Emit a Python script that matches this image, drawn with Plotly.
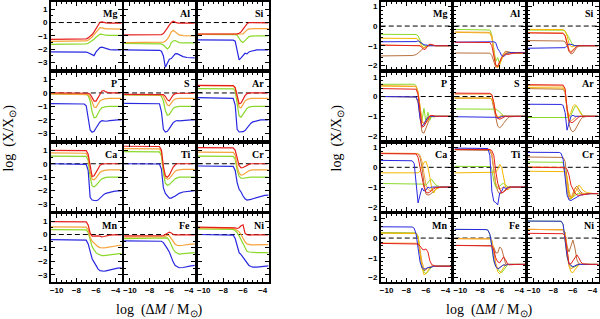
import plotly.graph_objects as go

# ---------------- data ----------------
ELEMENTS = ["Mg", "Al", "Si", "P", "S", "Ar", "Ca", "Ti", "Cr", "Mn", "Fe", "Ni"]

# x grid (log dM/Msun) used for the left-hand panel curves
XL = [-10.6, -7.2, -7.0, -6.8, -6.6, -6.4, -6.2, -6.0, -5.8, -5.6, -5.4, -5.2, -5.0, -4.6, -4.2, -3.8, -3.4]
# x grid used for the right-hand panel curves
XR = [-10.6, -7.6, -7.4, -7.2, -7.0, -6.8, -6.6, -6.4, -6.2, -6.0, -5.8, -5.6, -5.4, -5.2, -5.0, -4.6, -4.2, -3.8, -3.4]

# ---- left panel: red, orange, green, blue ----
L_Mg = dict(
    red=[-1.26, -1.25, -1.22, -1.15, -1.05, -0.90, -0.70, -0.45, -0.20, 0.02, 0.05, 0.00, -0.03, -0.05, -0.05, -0.05, -0.05],
    orange=[-1.41, -1.41, -1.38, -1.32, -1.22, -1.08, -0.90, -0.70, -0.50, -0.38, -0.40, -0.47, -0.48, -0.48, -0.50, -0.50, -0.50],
    green=[-1.63, -1.63, -1.60, -1.55, -1.47, -1.37, -1.25, -1.10, -0.95, -0.87, -0.88, -0.92, -0.95, -0.96, -0.96, -0.96, -0.96],
    blue=[-2.20, -2.20, -2.22, -2.26, -2.32, -2.42, -2.48, -2.20, -2.00, -1.88, -1.85, -1.90, -1.97, -2.03, -2.05, -2.05, -2.05])
L_Al = dict(
    red=[-0.93, -0.93, -0.93, -0.90, -0.82, -0.65, -0.42, -0.20, 0.00, 0.10, 0.02, -0.03, -0.05, -0.05, -0.05, -0.05, -0.05],
    orange=[-1.50, -1.50, -1.50, -1.50, -1.47, -1.40, -1.25, -1.00, -0.70, -0.58, -0.70, -0.85, -0.93, -0.98, -1.00, -1.00, -1.00],
    green=[-1.57, -1.57, -1.58, -1.60, -1.68, -1.85, -1.98, -1.85, -1.50, -1.38, -1.35, -1.42, -1.50, -1.53, -1.52, -1.52, -1.52],
    blue=[-2.05, -2.06, -2.08, -2.15, -2.50, -3.35, -3.00, -2.75, -2.70, -2.50, -2.35, -2.33, -2.40, -2.55, -2.62, -2.65, -2.65])
L_Si = dict(
    red=[-0.86, -0.86, -0.86, -0.86, -0.85, -0.80, -0.70, -0.50, -0.30, -0.10, 0.00, 0.00, -0.02, -0.02, -0.02, -0.02, -0.02],
    orange=[-0.88, -0.88, -0.88, -0.88, -0.88, -0.88, -0.90, -0.85, -0.70, -0.55, -0.48, -0.46, -0.45, -0.45, -0.45, -0.45, -0.45],
    green=[-0.88, -0.88, -0.88, -0.90, -0.95, -1.15, -1.40, -1.50, -1.35, -1.15, -1.05, -1.02, -1.00, -1.00, -1.00, -1.00, -1.00],
    blue=[-1.30, -1.30, -1.32, -1.40, -2.10, -2.80, -2.65, -2.45, -2.30, -2.35, -2.20, -2.15, -2.10, -2.05, -2.05, -2.05, -2.05])
L_P = dict(
    red=[0.00, 0.00, 0.00, -0.02, -0.10, -0.35, -0.60, -0.60, -0.35, -0.10, 0.15, 0.18, 0.08, 0.00, 0.00, 0.00, 0.00],
    orange=[-0.07, -0.07, -0.08, -0.12, -0.30, -0.70, -1.05, -1.08, -0.85, -0.60, -0.50, -0.45, -0.42, -0.40, -0.40, -0.40, -0.40],
    green=[-0.07, -0.08, -0.10, -0.20, -0.60, -1.40, -1.85, -1.80, -1.50, -1.25, -1.10, -1.05, -1.02, -1.00, -1.00, -1.00, -1.00],
    blue=[-0.80, -0.82, -0.95, -1.80, -2.75, -2.92, -2.85, -2.60, -2.35, -2.15, -2.05, -2.10, -2.10, -2.05, -2.00, -2.00, -2.00])
L_S = dict(
    red=[-0.10, -0.10, -0.10, -0.10, -0.12, -0.25, -0.50, -0.60, -0.40, -0.15, -0.05, -0.02, -0.02, -0.02, -0.02, -0.02, -0.02],
    orange=[-0.12, -0.12, -0.12, -0.14, -0.25, -0.60, -0.90, -0.95, -0.75, -0.55, -0.45, -0.42, -0.40, -0.40, -0.40, -0.40, -0.40],
    green=[-0.15, -0.15, -0.16, -0.25, -0.60, -1.30, -1.65, -1.60, -1.35, -1.15, -1.05, -1.02, -1.00, -1.00, -1.00, -1.00, -1.00],
    blue=[-0.77, -0.77, -0.80, -1.40, -2.70, -2.90, -2.85, -2.65, -2.40, -2.20, -2.10, -2.05, -2.08, -2.05, -2.00, -2.00, -2.00])
L_Ar = dict(
    red=[0.57, 0.57, 0.55, 0.40, -0.30, -0.80, -0.75, -0.45, -0.20, -0.05, 0.00, 0.00, 0.00, 0.00, 0.00, 0.00, 0.00],
    orange=[0.55, 0.55, 0.52, 0.35, -0.50, -1.05, -1.10, -0.85, -0.60, -0.48, -0.42, -0.40, -0.40, -0.40, -0.40, -0.40, -0.40],
    green=[0.32, 0.32, 0.30, 0.15, -0.90, -1.70, -1.80, -1.60, -1.35, -1.15, -1.05, -1.00, -1.00, -1.00, -1.00, -1.00, -1.00],
    blue=[-0.35, -0.35, -0.40, -0.90, -2.70, -2.90, -2.90, -2.88, -2.80, -2.60, -2.40, -2.25, -2.15, -2.05, -2.00, -2.00, -2.00])
L_Ca = dict(
    red=[1.00, 1.00, 0.98, 0.70, -0.30, -0.95, -0.90, -0.60, -0.30, -0.12, -0.03, 0.00, 0.00, 0.00, 0.00, 0.00, 0.00],
    orange=[0.80, 0.80, 0.78, 0.50, -0.60, -1.15, -1.20, -1.05, -0.85, -0.65, -0.55, -0.50, -0.48, -0.45, -0.45, -0.45, -0.45],
    green=[0.57, 0.57, 0.55, 0.25, -1.00, -1.65, -1.72, -1.60, -1.40, -1.25, -1.12, -1.05, -1.02, -1.00, -1.00, -1.00, -1.00],
    blue=[0.00, 0.00, -0.05, -0.50, -2.50, -2.70, -2.75, -2.75, -2.70, -2.55, -2.40, -2.28, -2.20, -2.10, -2.05, -2.02, -2.02])
L_Ti = dict(
    red=[1.30, 1.30, 1.28, 1.00, -0.20, -0.90, -1.00, -0.85, -0.55, -0.25, -0.08, 0.00, 0.00, 0.00, 0.00, 0.00, 0.00],
    orange=[1.13, 1.13, 1.10, 0.85, -0.40, -1.05, -1.15, -1.10, -0.90, -0.70, -0.55, -0.48, -0.45, -0.42, -0.42, -0.42, -0.42],
    green=[0.90, 0.90, 0.88, 0.60, -0.70, -1.45, -1.60, -1.55, -1.40, -1.25, -1.12, -1.05, -1.00, -1.00, -1.00, -1.00, -1.00],
    blue=[0.00, 0.00, -0.02, -0.40, -1.80, -2.20, -2.35, -2.55, -2.55, -2.50, -2.40, -2.30, -2.20, -2.10, -2.05, -2.00, -2.00])
L_Cr = dict(
    red=[1.20, 1.20, 1.18, 1.00, 0.30, -0.15, -0.30, -0.28, -0.20, -0.10, -0.05, 0.00, 0.00, 0.00, 0.00, 0.00, 0.00],
    orange=[0.87, 0.87, 0.85, 0.65, -0.20, -0.70, -0.85, -0.82, -0.70, -0.60, -0.52, -0.48, -0.45, -0.45, -0.45, -0.45, -0.45],
    green=[0.57, 0.57, 0.55, 0.35, -0.50, -0.95, -1.07, -1.08, -1.05, -1.02, -1.00, -1.00, -1.00, -1.00, -1.00, -1.00, -1.00],
    blue=[-0.17, -0.17, -0.20, -0.50, -1.40, -1.90, -2.10, -2.40, -2.60, -2.70, -2.70, -2.65, -2.60, -2.50, -2.40, -2.35, -2.33])
L_Mn = dict(
    red=[0.96, 0.96, 0.94, 0.70, 0.10, -0.12, -0.10, -0.12, -0.10, -0.12, -0.18, -0.15, -0.10, -0.05, -0.03, -0.03, -0.03],
    orange=[0.57, 0.57, 0.55, 0.35, -0.20, -0.50, -0.65, -0.80, -0.90, -0.97, -1.00, -1.00, -0.98, -0.92, -0.85, -0.80, -0.78],
    green=[0.37, 0.37, 0.35, 0.15, -0.45, -0.90, -1.15, -1.35, -1.45, -1.52, -1.57, -1.57, -1.55, -1.50, -1.45, -1.42, -1.40],
    blue=[-0.38, -0.38, -0.42, -0.70, -1.30, -1.80, -2.05, -2.30, -2.55, -2.68, -2.73, -2.73, -2.70, -2.62, -2.55, -2.50, -2.48])
L_Fe = dict(
    red=[-0.10, -0.10, -0.10, -0.10, -0.08, 0.00, 0.12, 0.18, 0.12, 0.00, -0.03, -0.03, -0.03, -0.03, -0.03, -0.03, -0.03],
    orange=[-0.20, -0.20, -0.20, -0.20, -0.20, -0.15, -0.05, -0.10, -0.30, -0.55, -0.72, -0.80, -0.82, -0.80, -0.75, -0.72, -0.72],
    green=[-0.30, -0.30, -0.30, -0.30, -0.30, -0.28, -0.25, -0.45, -0.80, -1.10, -1.30, -1.40, -1.45, -1.42, -1.38, -1.35, -1.35],
    blue=[-0.47, -0.47, -0.47, -0.50, -0.60, -0.80, -1.05, -1.30, -1.70, -2.05, -2.30, -2.42, -2.47, -2.45, -2.38, -2.33, -2.30])
L_Ni = dict(
    red=[0.55, 0.55, 0.52, 0.50, 0.45, 0.50, 0.65, 0.72, 0.10, -0.02, -0.05, -0.02, -0.02, -0.02, -0.02, -0.02, -0.02],
    orange=[0.50, 0.50, 0.45, 0.40, 0.30, 0.20, 0.00, -0.30, -0.55, -0.70, -0.75, -0.77, -0.77, -0.75, -0.75, -0.75, -0.75],
    green=[0.42, 0.42, 0.38, 0.30, 0.15, -0.10, -0.40, -0.75, -1.05, -1.25, -1.30, -1.32, -1.33, -1.35, -1.35, -1.35, -1.35],
    blue=[0.00, 0.00, -0.05, -0.30, -0.80, -1.35, -1.50, -1.70, -1.95, -2.15, -2.30, -2.38, -2.42, -2.42, -2.38, -2.35, -2.33])

# ---- right panel: brown, green, gold, orange, blue, red ----
R_Mg = dict(
    green=[-0.42, -0.42, -0.42, -0.42, -0.43, -0.50, -0.75, -0.92, -1.00, -1.02, -0.98, -0.95, -0.97, -1.00, -1.00, -1.00, -1.00, -1.00, -1.00],
    gold=[-0.62, -0.62, -0.62, -0.62, -0.63, -0.68, -0.85, -1.02, -1.10, -1.08, -1.00, -0.95, -0.97, -1.00, -1.00, -1.00, -1.00, -1.00, -1.00],
    orange=[-0.97, -0.97, -0.97, -0.97, -0.97, -0.98, -1.00, -1.05, -1.12, -1.08, -1.00, -0.96, -0.98, -1.00, -1.00, -1.00, -1.00, -1.00, -1.00],
    red=[-0.97, -0.97, -0.97, -0.97, -0.97, -0.98, -1.00, -1.10, -1.20, -1.15, -1.00, -0.92, -0.95, -1.00, -1.00, -1.00, -1.00, -1.00, -1.00],
    blue=[-0.80, -0.80, -0.80, -0.80, -0.79, -0.75, -0.80, -0.88, -0.95, -0.98, -1.00, -1.00, -1.00, -1.00, -1.00, -1.00, -1.00, -1.00, -1.00],
    brown=[-1.52, -1.52, -1.50, -1.48, -1.45, -1.38, -1.28, -1.18, -1.10, -1.05, -1.02, -1.00, -1.00, -1.00, -1.00, -1.00, -1.00, -1.00, -1.00])
R_Al = dict(
    green=[-0.17, -0.17, -0.17, -0.17, -0.20, -0.45, -1.20, -1.80, -1.60, -1.95, -1.60, -1.45, -1.40, -1.37, -1.37, -1.37, -1.37, -1.37, -1.37],
    gold=[-0.32, -0.32, -0.32, -0.32, -0.35, -0.60, -1.40, -2.00, -2.12, -1.95, -1.70, -1.50, -1.40, -1.38, -1.36, -1.36, -1.36, -1.36, -1.36],
    orange=[-0.30, -0.30, -0.30, -0.30, -0.32, -0.50, -1.20, -1.95, -2.05, -1.80, -1.55, -1.40, -1.35, -1.38, -1.37, -1.37, -1.37, -1.37, -1.37],
    red=[-0.82, -0.82, -0.82, -0.82, -0.84, -1.00, -1.60, -2.00, -2.05, -1.85, -1.60, -1.50, -1.42, -1.45, -1.42, -1.38, -1.37, -1.37, -1.37],
    blue=[-0.82, -0.82, -0.82, -0.82, -0.82, -0.80, -0.80, -0.85, -1.15, -1.30, -1.50, -1.55, -1.45, -1.38, -1.35, -1.35, -1.35, -1.35, -1.35],
    brown=[-1.37, -1.37, -1.37, -1.37, -1.38, -1.50, -1.85, -2.10, -2.05, -1.80, -1.55, -1.40, -1.28, -1.30, -1.35, -1.37, -1.37, -1.37, -1.37])
R_Si = dict(
    green=[-0.20, -0.20, -0.20, -0.20, -0.21, -0.25, -0.40, -0.60, -0.80, -0.95, -1.00, -1.00, -1.00, -1.00, -1.00, -1.00, -1.00, -1.00, -1.00],
    gold=[-0.17, -0.17, -0.17, -0.17, -0.18, -0.25, -0.50, -0.90, -1.05, -1.05, -1.00, -1.00, -1.00, -1.00, -1.00, -1.00, -1.00, -1.00, -1.00],
    orange=[-0.33, -0.33, -0.33, -0.33, -0.35, -0.45, -0.80, -1.20, -1.30, -1.20, -1.08, -1.02, -1.00, -1.00, -1.00, -1.00, -1.00, -1.00, -1.00],
    red=[-0.35, -0.35, -0.35, -0.35, -0.37, -0.50, -0.90, -1.25, -1.35, -1.25, -1.10, -1.03, -1.00, -1.00, -1.00, -1.00, -1.00, -1.00, -1.00],
    blue=[-1.13, -1.13, -1.13, -1.13, -1.12, -1.10, -1.00, -0.92, -0.93, -0.97, -1.00, -1.00, -1.00, -1.00, -1.00, -1.00, -1.00, -1.00, -1.00],
    brown=[-0.74, -0.74, -0.74, -0.74, -0.76, -0.80, -1.00, -1.30, -1.42, -1.38, -1.20, -1.08, -1.02, -1.00, -1.00, -1.00, -1.00, -1.00, -1.00])
R_P = dict(
    green=[0.62, 0.62, 0.62, 0.62, 0.55, 0.20, -0.70, -1.20, -0.60, -1.30, -0.80, -1.20, -0.95, -1.05, -1.00, -1.00, -1.00, -1.00, -1.00],
    gold=[0.53, 0.53, 0.53, 0.53, 0.50, 0.20, -0.60, -1.20, -1.40, -1.35, -1.20, -1.05, -0.98, -1.00, -1.00, -1.00, -1.00, -1.00, -1.00],
    orange=[0.55, 0.55, 0.55, 0.55, 0.52, 0.25, -0.70, -1.30, -1.35, -1.20, -1.05, -0.98, -1.00, -1.00, -1.00, -1.00, -1.00, -1.00, -1.00],
    red=[0.40, 0.40, 0.40, 0.40, 0.37, 0.10, -0.90, -1.55, -1.50, -1.30, -1.10, -0.98, -0.95, -0.98, -1.00, -1.00, -1.00, -1.00, -1.00],
    blue=[0.00, 0.00, 0.00, 0.00, -0.02, -0.25, -1.10, -1.50, -1.40, -1.20, -1.05, -1.00, -1.00, -1.00, -1.00, -1.00, -1.00, -1.00, -1.00],
    brown=[0.00, 0.00, 0.00, 0.00, -0.03, -0.30, -1.20, -1.80, -1.85, -1.60, -1.30, -1.10, -1.02, -1.00, -1.00, -1.00, -1.00, -1.00, -1.00])
R_S = dict(
    green=[-0.63, -0.63, -0.63, -0.63, -0.63, -0.63, -0.63, -0.64, -0.70, -0.80, -0.90, -0.97, -1.00, -1.00, -1.00, -1.00, -1.00, -1.00, -1.00],
    gold=[-0.08, -0.08, -0.08, -0.08, -0.08, -0.12, -0.40, -0.90, -1.05, -1.00, -0.95, -0.98, -1.00, -1.00, -1.00, -1.00, -1.00, -1.00, -1.00],
    orange=[0.12, 0.12, 0.12, 0.12, 0.12, 0.08, -0.30, -0.85, -1.05, -1.10, -1.02, -1.00, -1.00, -1.00, -1.00, -1.00, -1.00, -1.00, -1.00],
    red=[0.17, 0.17, 0.17, 0.17, 0.16, 0.10, -0.30, -0.90, -1.10, -1.15, -1.10, -1.03, -1.00, -1.00, -1.00, -1.00, -1.00, -1.00, -1.00],
    blue=[-1.02, -1.02, -1.02, -1.02, -1.02, -1.02, -1.02, -1.05, -1.10, -1.05, -1.00, -1.00, -1.00, -1.00, -1.00, -1.00, -1.00, -1.00, -1.00],
    brown=[-0.08, -0.08, -0.08, -0.08, -0.08, -0.15, -0.60, -1.20, -1.50, -1.58, -1.50, -1.35, -1.20, -1.10, -1.03, -1.00, -1.00, -1.00, -1.00])
R_Ar = dict(
    green=[-1.06, -1.06, -1.06, -1.06, -1.06, -1.06, -1.06, -1.06, -0.95, -0.70, -0.50, -0.50, -0.65, -0.85, -0.97, -1.00, -1.00, -1.00, -1.00],
    gold=[0.45, 0.45, 0.45, 0.45, 0.43, 0.25, -0.60, -1.00, -0.80, -0.50, -0.40, -0.50, -0.70, -0.88, -0.97, -1.00, -1.00, -1.00, -1.00],
    orange=[0.55, 0.55, 0.55, 0.55, 0.53, 0.35, -0.70, -1.20, -1.25, -1.15, -1.05, -1.00, -1.00, -1.00, -1.00, -1.00, -1.00, -1.00, -1.00],
    red=[0.60, 0.60, 0.60, 0.60, 0.58, 0.40, -0.60, -1.20, -1.32, -1.30, -1.20, -1.10, -1.03, -1.00, -1.00, -1.00, -1.00, -1.00, -1.00],
    blue=[-0.39, -0.39, -0.39, -0.40, -0.45, -0.80, -1.70, -1.30, -1.00, -0.95, -1.00, -1.00, -1.00, -1.00, -1.00, -1.00, -1.00, -1.00, -1.00],
    brown=[0.40, 0.40, 0.40, 0.40, 0.37, 0.20, -0.70, -1.40, -1.70, -1.78, -1.70, -1.50, -1.30, -1.15, -1.05, -1.00, -1.00, -1.00, -1.00])
R_Ca = dict(
    green=[-0.82, -0.82, -0.82, -0.82, -0.82, -0.82, -0.82, -0.83, -0.85, -0.90, -0.80, -0.65, -0.62, -0.75, -0.90, -0.98, -1.00, -1.00, -1.00],
    gold=[-0.28, -0.28, -0.28, -0.28, -0.28, -0.28, -0.20, 0.00, 0.25, 0.30, 0.00, -0.50, -1.10, -1.30, -1.10, -1.00, -1.00, -1.00, -1.00],
    orange=[0.72, 0.72, 0.72, 0.72, 0.72, 0.70, 0.60, 0.30, -0.30, -0.90, -1.10, -1.20, -1.10, -1.02, -1.00, -1.00, -1.00, -1.00, -1.00],
    red=[0.69, 0.69, 0.69, 0.69, 0.68, 0.50, 0.00, -0.60, -1.00, -1.25, -1.30, -1.25, -1.15, -1.08, -1.03, -1.00, -1.00, -1.00, -1.00],
    blue=[0.35, 0.35, 0.33, 0.20, -0.80, -1.80, -1.40, -1.05, -1.20, -1.15, -1.00, -1.05, -1.00, -1.00, -1.00, -1.00, -1.00, -1.00, -1.00],
    brown=[0.70, 0.70, 0.70, 0.70, 0.70, 0.68, 0.50, 0.00, -0.80, -1.35, -1.40, -1.38, -1.30, -1.20, -1.10, -1.02, -1.00, -1.00, -1.00])
R_Ti = dict(
    green=[0.05, 0.05, 0.05, 0.05, 0.04, -0.10, -0.70, -1.00, -1.02, -0.95, -0.85, -0.82, -0.90, -0.97, -1.00, -1.00, -1.00, -1.00, -1.00],
    gold=[-0.28, -0.28, -0.28, -0.28, -0.28, -0.28, -0.28, -0.25, -0.10, 0.15, 0.00, -0.50, -1.00, -1.15, -1.05, -1.00, -1.00, -1.00, -1.00],
    orange=[0.92, 0.92, 0.92, 0.92, 0.90, 0.70, 0.00, -0.80, -1.05, -1.10, -1.05, -1.00, -1.00, -1.00, -1.00, -1.00, -1.00, -1.00, -1.00],
    red=[0.90, 0.90, 0.90, 0.90, 0.90, 0.85, 0.60, -0.20, -0.80, -1.10, -1.30, -1.25, -1.15, -1.05, -1.00, -1.00, -1.00, -1.00, -1.00],
    blue=[0.97, 0.97, 0.97, 0.95, 0.60, -1.20, -1.72, -1.78, -1.90, -1.30, -1.20, -1.00, -1.08, -1.02, -1.00, -1.00, -1.00, -1.00, -1.00],
    brown=[0.88, 0.88, 0.88, 0.88, 0.85, 0.60, -0.20, -0.90, -1.20, -1.35, -1.30, -1.20, -1.10, -1.03, -1.00, -1.00, -1.00, -1.00, -1.00])
R_Cr = dict(
    green=[0.27, 0.27, 0.27, 0.27, 0.25, -0.20, -1.20, -1.60, -1.60, -1.50, -1.40, -1.35, -1.33, -1.33, -1.33, -1.33, -1.33, -1.33, -1.33],
    gold=[-0.20, -0.20, -0.20, -0.20, -0.20, -0.22, -0.50, -1.20, -1.55, -1.50, -1.30, -1.05, -0.90, -1.00, -1.15, -1.28, -1.32, -1.33, -1.33],
    orange=[0.02, 0.02, 0.02, 0.02, 0.00, -0.30, -1.10, -1.60, -1.55, -1.30, -1.05, -1.10, -1.25, -1.32, -1.33, -1.33, -1.33, -1.33, -1.33],
    red=[0.00, 0.00, 0.00, 0.00, 0.00, -0.02, -0.10, -0.40, -0.90, -1.15, -1.30, -1.40, -1.42, -1.40, -1.38, -1.35, -1.33, -1.33, -1.33],
    blue=[0.76, 0.76, 0.75, 0.70, 0.40, -0.50, -1.40, -1.65, -1.68, -1.62, -1.55, -1.50, -1.45, -1.40, -1.38, -1.35, -1.33, -1.33, -1.33],
    brown=[0.52, 0.52, 0.52, 0.52, 0.50, 0.30, -0.60, -1.40, -1.60, -1.40, -1.05, -0.95, -1.10, -1.25, -1.32, -1.33, -1.33, -1.33, -1.33])
R_Mn = dict(
    green=[0.27, 0.27, 0.27, 0.27, 0.25, 0.10, -0.60, -1.40, -1.70, -1.80, -1.70, -1.55, -1.45, -1.42, -1.42, -1.42, -1.42, -1.42, -1.42],
    gold=[0.25, 0.25, 0.25, 0.25, 0.23, 0.05, -0.70, -1.50, -1.85, -1.80, -1.65, -1.50, -1.45, -1.42, -1.42, -1.42, -1.42, -1.42, -1.42],
    orange=[-0.25, -0.25, -0.25, -0.25, -0.26, -0.30, -0.60, -1.20, -1.55, -1.60, -1.50, -1.45, -1.42, -1.42, -1.42, -1.42, -1.42, -1.42, -1.42],
    red=[-0.27, -0.27, -0.27, -0.27, -0.28, -0.30, -0.40, -0.55, -0.60, -0.55, -0.70, -1.15, -1.35, -1.40, -1.42, -1.42, -1.42, -1.42, -1.42],
    blue=[0.57, 0.57, 0.56, 0.50, 0.20, -0.50, -1.20, -1.50, -1.57, -1.55, -1.48, -1.50, -1.45, -1.42, -1.42, -1.42, -1.42, -1.42, -1.42],
    brown=[0.27, 0.27, 0.27, 0.27, 0.25, 0.05, -0.80, -1.50, -1.65, -1.60, -1.50, -1.45, -1.42, -1.42, -1.42, -1.42, -1.42, -1.42, -1.42])
R_Fe = dict(
    green=[0.44, 0.44, 0.43, 0.40, 0.18, -0.45, -1.20, -1.40, -1.55, -1.70, -1.75, -1.60, -1.45, -1.35, -1.33, -1.33, -1.33, -1.33, -1.33],
    gold=[-0.03, -0.03, -0.03, -0.03, -0.04, -0.10, -0.60, -1.30, -1.70, -1.80, -1.65, -1.45, -1.35, -1.33, -1.33, -1.33, -1.33, -1.33, -1.33],
    orange=[-0.03, -0.03, -0.03, -0.03, -0.04, -0.12, -0.70, -1.30, -1.55, -1.50, -1.40, -1.35, -1.33, -1.33, -1.33, -1.33, -1.33, -1.33, -1.33],
    red=[-0.37, -0.37, -0.37, -0.37, -0.37, -0.40, -0.60, -1.00, -1.20, -1.25, -1.10, -0.95, -1.10, -1.30, -1.35, -1.33, -1.33, -1.33, -1.33],
    blue=[0.44, 0.44, 0.43, 0.40, 0.20, -0.40, -1.10, -1.45, -1.55, -1.50, -1.40, -1.35, -1.38, -1.33, -1.33, -1.33, -1.33, -1.33, -1.33],
    brown=[-0.37, -0.37, -0.37, -0.37, -0.37, -0.38, -0.45, -0.75, -0.75, -0.45, -0.55, -1.00, -1.30, -1.35, -1.33, -1.33, -1.33, -1.33, -1.33])
R_Ni = dict(
    green=[0.86, 0.86, 0.86, 0.85, 0.68, -0.05, -0.95, -1.35, -1.45, -1.50, -1.45, -1.38, -1.33, -1.33, -1.33, -1.33, -1.33, -1.33, -1.33],
    gold=[0.44, 0.44, 0.44, 0.44, 0.42, 0.25, -0.60, -1.40, -1.70, -1.75, -1.60, -1.45, -1.35, -1.33, -1.33, -1.33, -1.33, -1.33, -1.33],
    orange=[0.44, 0.44, 0.44, 0.44, 0.42, 0.20, -0.70, -1.40, -1.55, -1.50, -1.40, -1.33, -1.33, -1.33, -1.33, -1.33, -1.33, -1.33, -1.33],
    red=[0.24, 0.24, 0.24, 0.24, 0.22, 0.10, -0.60, -1.30, -1.30, -1.15, -0.95, -0.85, -1.00, -1.20, -1.30, -1.33, -1.33, -1.33, -1.33],
    blue=[0.86, 0.86, 0.86, 0.85, 0.70, 0.00, -0.90, -1.30, -1.40, -1.45, -1.40, -1.35, -1.33, -1.33, -1.33, -1.33, -1.33, -1.33, -1.33],
    brown=[0.44, 0.44, 0.44, 0.44, 0.42, 0.30, -0.40, -0.70, -0.40, -0.10, -0.50, -1.10, -1.30, -1.33, -1.33, -1.33, -1.33, -1.33, -1.33])

LEFT = [L_Mg, L_Al, L_Si, L_P, L_S, L_Ar, L_Ca, L_Ti, L_Cr, L_Mn, L_Fe, L_Ni]
RIGHT = [R_Mg, R_Al, R_Si, R_P, R_S, R_Ar, R_Ca, R_Ti, R_Cr, R_Mn, R_Fe, R_Ni]

X_TICKS = [-10, -8, -6, -4]
L_YTICKS = [-3, -2, -1, 0, 1]
R_YTICKS = [-2, -1, 0, 1]

# ---------------- styling / layout ----------------
W, H = 600, 319
COLORS = dict(red="#e5201c", orange="#f5a33a", green="#8ad92a", blue="#2828e0",
              gold="#f2b800", brown="#b8703e")
LEFT_ORDER = ["blue", "green", "orange", "red"]
RIGHT_ORDER = ["brown", "green", "gold", "orange", "blue", "red"]
LEFT_COLS = [(50, 121), (123.5, 194.5), (197.5, 268.5)]
RIGHT_COLS = [(381, 452), (455, 526), (528.5, 599.5)]
ROWS = [(2.5, 69.5), (73, 140.5), (144, 211.5), (215, 282.5)]
TICKFONT = dict(family="Liberation Sans", size=8, color="black", weight="bold")

fig = go.Figure()
layout = {}
annotations = []
shapes = []

panels = [
    (LEFT, LEFT_COLS, XL, [-3.5, 1.5], L_YTICKS, 0.5, LEFT_ORDER, 1.2, 0),
    (RIGHT, RIGHT_COLS, XR, [-2.2, 1.2], R_YTICKS, 0.2, RIGHT_ORDER, 1.0, 12),
]
for data, cols, grid, yrange, yticks, yminor, order, lw, offset in panels:
    for i, el in enumerate(ELEMENTS):
        r, c = divmod(i, 3)
        n = offset + i + 1
        sfx = "" if n == 1 else str(n)
        x0, x1 = cols[c]
        y0, y1 = ROWS[r]
        layout["xaxis" + sfx] = dict(
            domain=[x0 / W, x1 / W], anchor="y" + sfx, range=[-10.6, -3.4],
            tickmode="array", tickvals=X_TICKS, ticks="inside", ticklen=4, tickwidth=1,
            tickcolor="black", showline=True, linecolor="black", linewidth=1.6,
            mirror="allticks", showgrid=False, zeroline=False,
            showticklabels=(r == 3), tickfont=TICKFONT,
            minor=dict(dtick=0.5, tick0=0, ticks="inside", ticklen=2, tickcolor="black",
                       showgrid=False),
        )
        layout["yaxis" + sfx] = dict(
            domain=[1 - y1 / H, 1 - y0 / H], anchor="x" + sfx, range=yrange,
            tickmode="array", tickvals=yticks, ticks="inside", ticklen=4, tickwidth=1,
            tickcolor="black", showline=True, linecolor="black", linewidth=1.6,
            mirror="allticks", showgrid=False, zeroline=False,
            showticklabels=(c == 0), tickfont=TICKFONT,
            minor=dict(dtick=yminor, tick0=0, ticks="inside", ticklen=2, tickcolor="black",
                       showgrid=False),
        )
        shapes.append(dict(type="line", xref="x" + sfx + " domain", yref="y" + sfx,
                           x0=0, x1=1, y0=0, y1=0, layer="below",
                           line=dict(color="black", width=1, dash="5px,3px")))
        for key in order:
            fig.add_trace(go.Scatter(
                x=grid, y=data[i][key], mode="lines",
                line=dict(color=COLORS[key], width=lw),
                xaxis="x" + sfx, yaxis="y" + sfx, showlegend=False, hoverinfo="skip"))
        annotations.append(dict(
            text=el, xref="x" + sfx + " domain", yref="y" + sfx + " domain",
            x=0.96, y=0.95, xanchor="right", yanchor="top", showarrow=False,
            font=dict(family="Liberation Serif", size=10, color="black", weight="bold")))

TITLE_FONT = dict(family="Liberation Serif", size=14, color="black")
for cx in (9 / W, 338 / W):
    annotations.append(dict(text="log  (X/X<sub>⊙</sub>)", xref="paper", yref="paper",
                            x=cx, y=1 - 138 / H, textangle=-90, showarrow=False,
                            xanchor="center", yanchor="middle", font=TITLE_FONT))
for cx in (159 / W, 490 / W):
    annotations.append(dict(text="log  (Δ<i>M</i> / M<sub>⊙</sub>)", xref="paper", yref="paper",
                            x=cx, y=1 - 311 / H, showarrow=False,
                            xanchor="center", yanchor="middle", font=TITLE_FONT))

fig.update_layout(
    width=W, height=H, margin=dict(l=0, r=0, t=0, b=0),
    paper_bgcolor="white", plot_bgcolor="white",
    annotations=annotations, shapes=shapes, **layout)

fig.write_html("out.html", config={"displayModeBar": False},
               post_script="document.body.style.margin='0';document.body.style.padding='0';document.body.style.overflow='hidden';")
